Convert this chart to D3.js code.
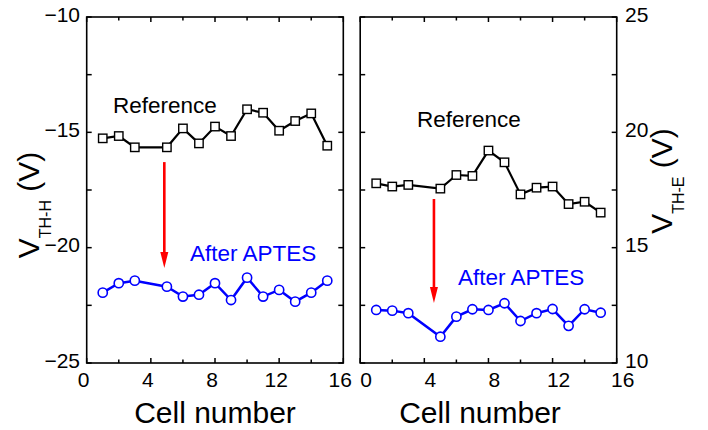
<!DOCTYPE html>
<html>
<head>
<meta charset="utf-8">
<script src="https://cdn.jsdelivr.net/npm/d3@7/dist/d3.min.js"></script>
<style>
  body { margin:0; background:#fff; }
  svg text { font-family: "Liberation Sans", Arial, sans-serif; }
</style>
</head>
<body>
<svg id="chart" width="708" height="430"></svg>
<script>
// cell numbers (cell 4 missing in the measurement)
var cells = [1, 2, 3, 5, 6, 7, 8, 9, 10, 11, 12, 13, 14, 15];

// V_TH-H, left panel
var holeRef   = [-15.26, -15.16, -15.65, -15.65, -14.83, -15.48, -14.75, -15.16, -14.0, -14.15, -14.93, -14.51, -14.18, -15.58];
var holeAptes = [-21.95, -21.54, -21.43, -21.69, -22.12, -22.04, -21.54, -22.27, -21.30, -22.12, -21.83, -22.34, -21.95, -21.43];

// V_TH-E, right panel
var elecRef   = [17.79, 17.65, 17.72, 17.56, 18.15, 18.11, 19.21, 18.70, 17.31, 17.60, 17.65, 16.89, 16.99, 16.52];
var elecAptes = [12.30, 12.27, 12.16, 11.14, 12.01, 12.33, 12.30, 12.59, 11.82, 12.16, 12.34, 11.61, 12.33, 12.18];

var xTicks = [0, 4, 8, 12, 16];
var holeTicks = [-10, -15, -20, -25];
var elecTicks = [25, 20, 15, 10];

// red arrows: [x, from, to]
var holeArrow = [4.84, -16.29, -20.88];
var elecArrow = [4.6, 17.11, 12.6];

var svg = d3.select("#chart");
var blue = "#0000ff";

function drawPanel(opt) {
    var x = d3.scaleLinear().domain([0, 16]).range([opt.left, opt.right]);
    var y = d3.scaleLinear().domain(opt.ydomain).range([363, 17]);
    var g = svg.append("g");

    // frame
    g.append("rect")
        .attr("x", opt.left).attr("y", 17)
        .attr("width", opt.right - opt.left).attr("height", 346)
        .attr("fill", "none").attr("stroke", "#000").attr("stroke-width", 1.6);

    // ticks inward on all 4 sides
    var xt = d3.range(0, 17, 2);
    xt.forEach((v) => {
        var len = (v % 4 === 0) ? 5 : 3.5;
        g.append("line").attr("x1", x(v)).attr("x2", x(v)).attr("y1", 363).attr("y2", 363 - len)
            .attr("stroke", "#000").attr("stroke-width", 1.5);
        g.append("line").attr("x1", x(v)).attr("x2", x(v)).attr("y1", 17).attr("y2", 17 + len)
            .attr("stroke", "#000").attr("stroke-width", 1.5);
    });
    var yt = d3.range(opt.ydomain[0], opt.ydomain[1] + 0.1, 2.5);
    yt.forEach((v) => {
        var len = 5;
        g.append("line").attr("x1", opt.left).attr("x2", opt.left + len).attr("y1", y(v)).attr("y2", y(v))
            .attr("stroke", "#000").attr("stroke-width", 1.5);
        g.append("line").attr("x1", opt.right).attr("x2", opt.right - len).attr("y1", y(v)).attr("y2", y(v))
            .attr("stroke", "#000").attr("stroke-width", 1.5);
    });

    // x tick labels
    g.selectAll(".xl").data(xTicks).enter().append("text")
        .attr("x", (d) => x(d) + opt.xlabShift)
        .attr("y", 387)
        .attr("text-anchor", "middle")
        .style("font-size", "21px")
        .text((d) => d);

    // y tick labels
    g.selectAll(".yl").data(opt.yticks).enter().append("text")
        .attr("x", opt.ylabX)
        .attr("y", (d) => y(d) + 4.5)
        .attr("text-anchor", opt.ylabAnchor)
        .style("font-size", "21px")
        .text((d) => d < 0 ? "\u2212" + Math.abs(d) : d);

    // x caption
    g.append("text")
        .attr("x", opt.capX).attr("y", 423)
        .attr("text-anchor", "middle")
        .style("font-size", "30px")
        .text("Cell number");

    // y caption with subscript
    var t = g.append("text")
        .attr("transform", "translate(" + opt.ycapX + "," + opt.ycapY + ") rotate(-90)")
        .attr("text-anchor", "middle")
        .style("font-size", "30px");
    t.append("tspan").text("V");
    t.append("tspan").attr("dy", 12).style("font-size", "16px").text(opt.sub);
    t.append("tspan").attr("dy", -12).text(" (V)");

    var line = d3.line().x((d) => x(d[0])).y((d) => y(d[1]));

    // reference series
    var refData = cells.map((c, i) => [c, opt.ref[i]]);
    g.append("path").datum(refData).attr("d", line)
        .attr("fill", "none").attr("stroke", "#000").attr("stroke-width", 2.2);
    g.selectAll(".sq").data(refData).enter().append("rect")
        .attr("x", (d) => x(d[0]) - 4.2).attr("y", (d) => y(d[1]) - 4.2)
        .attr("width", 8.4).attr("height", 8.4)
        .attr("fill", "#fff").attr("stroke", "#000").attr("stroke-width", 1.4);

    // after APTES series
    var apData = cells.map((c, i) => [c, opt.aptes[i]]);
    g.append("path").datum(apData).attr("d", line)
        .attr("fill", "none").attr("stroke", blue).attr("stroke-width", 2.5);
    g.selectAll(".ci").data(apData).enter().append("circle")
        .attr("cx", (d) => x(d[0])).attr("cy", (d) => y(d[1]))
        .attr("r", 4.6)
        .attr("fill", "#fff").attr("stroke", blue).attr("stroke-width", 1.6);

    // red arrow
    var ax = x(opt.arrow[0]), ay0 = y(opt.arrow[1]), ay1 = y(opt.arrow[2]);
    g.append("line").attr("x1", ax).attr("x2", ax).attr("y1", ay0).attr("y2", ay1 - 12)
        .attr("stroke", "#ff0000").attr("stroke-width", 2.6);
    g.append("path")
        .attr("d", "M" + (ax - 4) + "," + (ay1 - 16) + "L" + (ax + 4) + "," + (ay1 - 16) + "L" + ax + "," + ay1 + "Z")
        .attr("fill", "#ff0000");

    // annotations
    g.append("text").attr("x", opt.refLab[0]).attr("y", opt.refLab[1])
        .style("font-size", "22.5px").text("Reference");
    g.append("text").attr("x", opt.apLab[0]).attr("y", opt.apLab[1])
        .style("font-size", "22.5px").style("fill", blue).text("After APTES");
}

drawPanel({
    left: 86.7, right: 343.3, ydomain: [-25, -10],
    yticks: holeTicks, ylabX: 80, ylabAnchor: "end", xlabShift: -3,
    capX: 215, ycapX: 39, ycapY: 205, sub: "TH-H",
    ref: holeRef, aptes: holeAptes, arrow: holeArrow,
    refLab: [113, 113], apLab: [190, 261]
});

drawPanel({
    left: 360.2, right: 616.7, ydomain: [10, 25],
    yticks: elecTicks, ylabX: 625, ylabAnchor: "start", xlabShift: 6,
    capX: 480, ycapX: 672, ycapY: 181, sub: "TH-E",
    ref: elecRef, aptes: elecAptes, arrow: elecArrow,
    refLab: [417, 127], apLab: [458, 285]
});
</script>
</body>
</html>
